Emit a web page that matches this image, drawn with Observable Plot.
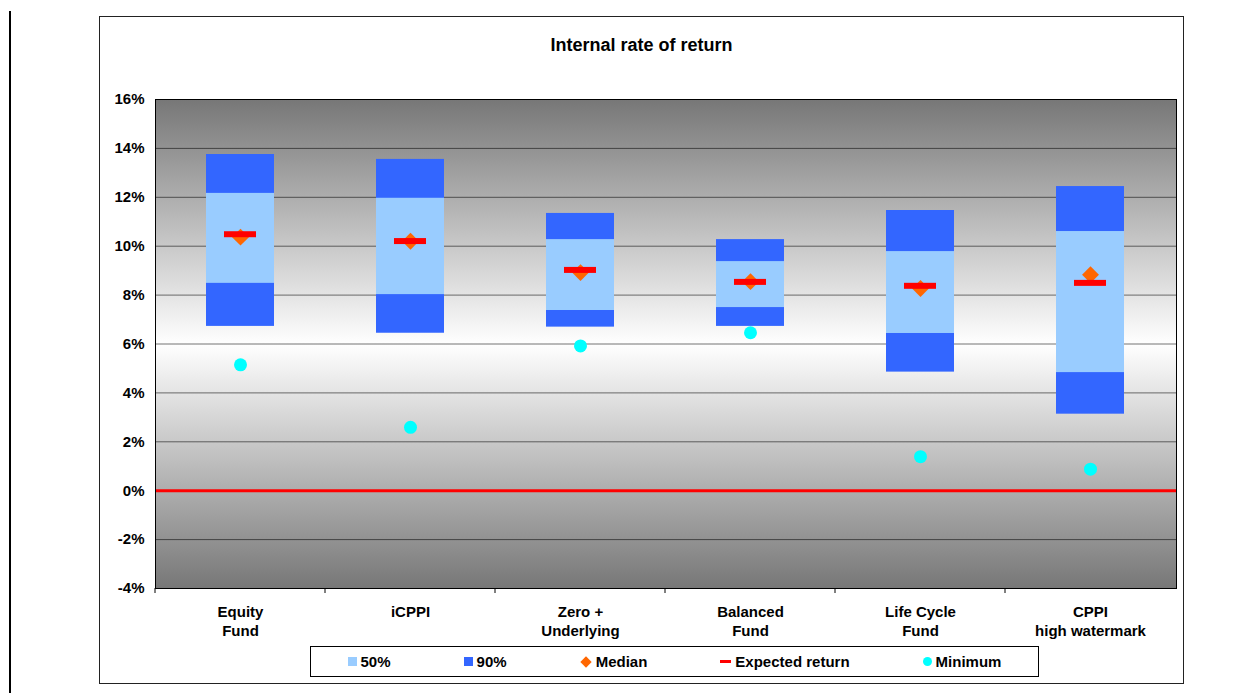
<!DOCTYPE html>
<html>
<head>
<meta charset="utf-8">
<script src="https://cdn.jsdelivr.net/npm/d3@7"></script>
<script src="https://cdn.jsdelivr.net/npm/@observablehq/plot@0.6"></script>
<style>
  body { margin: 0; background: #fff; font-family: "Liberation Sans", Arial, sans-serif; }
  #wrap { position: relative; width: 1238px; height: 693px; overflow: hidden; }
  #chart { position: absolute; left: 0; top: 0; }
  #leftbar { position: absolute; left: 9px; top: 11px; width: 2px; height: 700px; background: #000; }
  #frame { position: absolute; left: 99px; top: 16px; width: 1083px; height: 666px; border: 1px solid #222; pointer-events: none; }
  #title { position: absolute; left: 99px; width: 1085px; top: 35px; text-align: center; font-size: 18px; font-weight: bold; color: #000; }
  #legend { position: absolute; left: 310px; top: 646px; width: 727px; height: 29px; border: 1px solid #000; background: #fff;
            display: flex; justify-content: space-around; align-items: center; font-size: 15px; font-weight: bold; color: #000; }
  .item { display: flex; align-items: center; white-space: nowrap; }
  .sw { display: inline-block; margin-right: 4px; }
</style>
</head>
<body>
<div id="wrap">
  <div id="leftbar"></div>
  <div id="chart"></div>
  <div id="title">Internal rate of return</div>
  <div id="legend"></div>
  <div id="frame"></div>
</div>
<script>
// Internal rate of return by strategy (in %)
const funds = ["Equity Fund", "iCPPI", "Zero + Underlying", "Balanced Fund", "Life Cycle Fund", "CPPI high watermark"];
const tickLabels = ["Equity\nFund", "iCPPI", "Zero +\nUnderlying", "Balanced\nFund", "Life Cycle\nFund", "CPPI\nhigh watermark"];
const p90Low  = [6.72, 6.44, 6.69, 6.72, 4.85, 3.13];
const p50Low  = [8.48, 8.02, 7.37, 7.49, 6.43, 4.83];
const p50High = [12.16, 11.96, 10.27, 9.37, 9.78, 10.60];
const p90High = [13.75, 13.55, 11.34, 10.27, 11.46, 12.44];
const median   = [10.37, 10.20, 8.92, 8.55, 8.27, 8.83];
const expected = [10.49, 10.21, 9.03, 8.54, 8.38, 8.50];
const minimum  = [5.15, 2.59, 5.92, 6.46, 1.39, 0.88];
const yTicks = [-4, -2, 0, 2, 4, 6, 8, 10, 12, 14, 16];

const colors = { p50: "#99ccff", p90: "#3366ff", median: "#ff6600", expected: "#ff0000", minimum: "#00ffff" };

const rows = funds.map((name, i) => ({
  name, label: tickLabels[i],
  lo90: p90Low[i], lo50: p50Low[i], hi50: p50High[i], hi90: p90High[i],
  median: median[i], expected: expected[i], minimum: minimum[i]
}));
const labelOf = new Map(rows.map(d => [d.name, d.label]));

// vertical grey-white-grey background of the plotting area
const backgroundDefs = () => {
  const defs = d3.create("svg:defs");
  const g = defs.append("linearGradient").attr("id", "irr-bg")
    .attr("x1", 0).attr("y1", 0).attr("x2", 0).attr("y2", 1);
  [[0, "#777777"], [0.5, "#ffffff"], [1, "#777777"]].forEach(([o, c]) =>
    g.append("stop").attr("offset", o).attr("stop-color", c));
  return defs.node();
};

// small ticks on the category boundaries below the plotting area
const boundaryTicks = (index, scales, values, dim) => {
  const x = scales.x;
  const step = x(funds[1]) - x(funds[0]);
  const bw = x.bandwidth ? x.bandwidth() : step * 0.4;
  const yb = dim.height - dim.marginBottom;
  const g = d3.create("svg:g").attr("stroke", "#000");
  funds.forEach(f => {
    const xb = x(f) - (step - bw) / 2;
    g.append("line").attr("x1", xb).attr("x2", xb).attr("y1", yb).attr("y2", yb + 5);
  });
  return g.node();
};

const chart = Plot.plot({
  width: 1238,
  height: 693,
  marginLeft: 155,
  marginRight: 62,
  marginTop: 99,
  marginBottom: 105,
  style: { fontFamily: '"Liberation Sans", Arial, sans-serif', fontSize: "15px", fontWeight: "bold", background: "transparent", color: "#000" },
  x: { domain: funds, paddingInner: 0.6, paddingOuter: 0.3, axis: null, label: null },
  y: { domain: [-4, 16], axis: null, label: null },
  marks: [
    backgroundDefs,
    Plot.frame({ fill: "url(#irr-bg)" }),
    Plot.ruleY(yTicks, { stroke: "#000", strokeOpacity: 0.55 }),
    Plot.ruleY([0], { stroke: "#ff0000", strokeWidth: 3 }),
    Plot.barY(rows, { x: "name", y1: "lo90", y2: "hi90", fill: colors.p90 }),
    Plot.barY(rows, { x: "name", y1: "lo50", y2: "hi50", fill: colors.p50 }),
    Plot.dot(rows, { x: "name", y: "median", symbol: "diamond2", r: 7.6, fill: colors.median }),
    Plot.tickY(rows, { x: "name", y: "expected", stroke: colors.expected, strokeWidth: 6, inset: 18 }),
    Plot.dot(rows, { x: "name", y: "minimum", r: 6.5, fill: colors.minimum }),
    Plot.frame({ stroke: "#000" }),
    Plot.axisY({ ticks: yTicks, tickFormat: d => d + "%", tickSize: 0, tickPadding: 11, label: null }),
    Plot.axisX({ tickSize: 0, tickPadding: 15, lineHeight: 1.27, tickFormat: d => labelOf.get(d), label: null }),
    boundaryTicks
  ]
});
document.getElementById("chart").appendChild(chart);

// legend
const legend = d3.select("#legend");
const items = [
  { label: "50%", kind: "square", color: colors.p50 },
  { label: "90%", kind: "square", color: colors.p90 },
  { label: "Median", kind: "diamond", color: colors.median },
  { label: "Expected return", kind: "dash", color: colors.expected },
  { label: "Minimum", kind: "circle", color: colors.minimum }
];
items.forEach(it => {
  const el = legend.append("span").attr("class", "item");
  const sw = el.append("span").attr("class", "sw").style("background", it.color);
  if (it.kind === "square") sw.style("width", "9px").style("height", "9px");
  if (it.kind === "dash") sw.style("width", "11px").style("height", "3px");
  if (it.kind === "circle") sw.style("width", "9px").style("height", "9px").style("border-radius", "50%");
  if (it.kind === "diamond") sw.style("width", "8px").style("height", "8px").style("transform", "rotate(45deg)").style("margin-right", "6px").style("margin-left", "2px");
  el.append("span").text(it.label);
});
</script>
</body>
</html>
